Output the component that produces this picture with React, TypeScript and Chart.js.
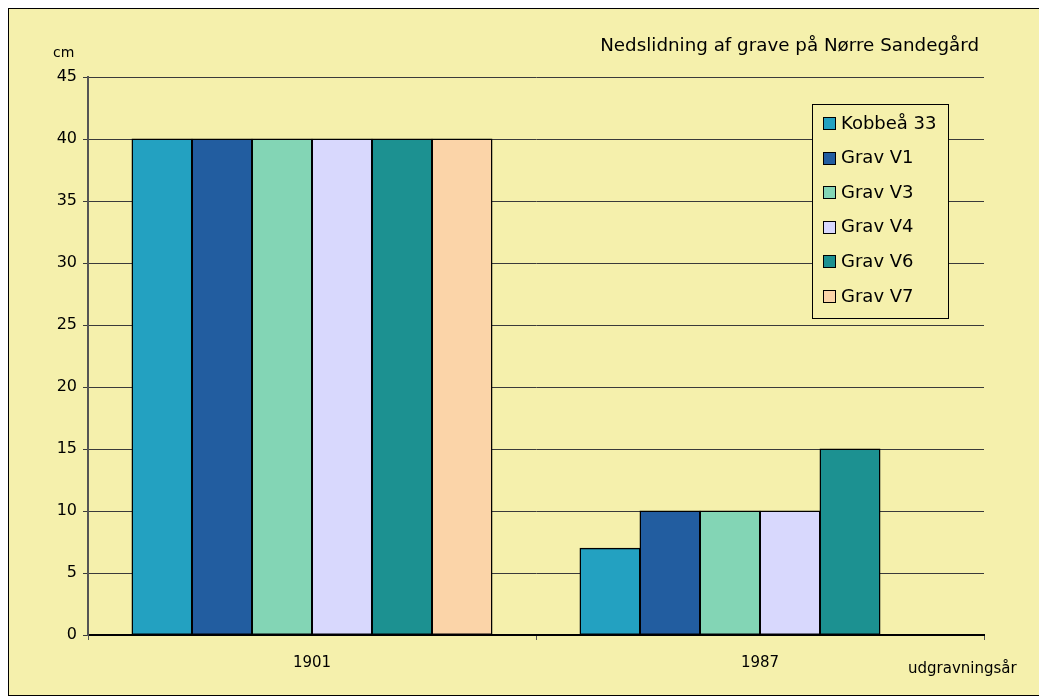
import React, { useEffect, useRef } from "react";
import { Chart, registerables } from "chart.js";

Chart.register(...registerables);

const categories = ["1901", "1987"];
const seriesNames = ["Kobbeå 33", "Grav V1", "Grav V3", "Grav V4", "Grav V6", "Grav V7"];
const kobbea33 = [40, 7];
const gravV1 = [40, 10];
const gravV3 = [40, 10];
const gravV4 = [40, 10];
const gravV6 = [40, 15];
const gravV7 = [40, null];
const seriesColors = ["#23A1C1", "#225DA0", "#83D5B5", "#D8D8FD", "#1C9191", "#FBD4A8"];
const yTicks = [0, 5, 10, 15, 20, 25, 30, 35, 40, 45];

const titleText = "Nedslidning af grave på Nørre Sandegård";
const yAxisTitle = "cm";
const xAxisTitle = "udgravningsår";

const BG = "#F5F0AC";
const FONT = "'DejaVu Sans', sans-serif";

const textPlugin = {
  id: "textPlugin",
  afterDraw(chart: any) {
    const ctx = chart.ctx;
    ctx.save();
    ctx.fillStyle = "#000";
    ctx.textBaseline = "alphabetic";
    ctx.font = `18.3px ${FONT}`;
    ctx.textAlign = "right";
    ctx.fillText(titleText, 970, 42);
    ctx.font = `14px ${FONT}`;
    ctx.textAlign = "left";
    ctx.fillText(yAxisTitle, 44, 48);
    ctx.font = `15px ${FONT}`;
    ctx.fillText(xAxisTitle, 899, 664);

    // legend
    const lx = 803, ly = 95, lw = 136, lh = 214;
    ctx.fillStyle = BG;
    ctx.fillRect(lx, ly, lw, lh);
    ctx.strokeStyle = "#000";
    ctx.lineWidth = 1;
    ctx.strokeRect(lx + 0.5, ly + 0.5, lw, lh);
    ctx.font = `18px ${FONT}`;
    ctx.textBaseline = "middle";
    chart.data.datasets.forEach((ds: any, i: number) => {
      const cy = 114 + i * 34.6;
      ctx.fillStyle = ds.backgroundColor;
      ctx.fillRect(814, Math.round(cy - 6), 12, 12);
      ctx.strokeStyle = "#000";
      ctx.lineWidth = 1;
      ctx.strokeRect(814.5, Math.round(cy - 6) + 0.5, 12, 12);
      ctx.fillStyle = "#000";
      ctx.fillText(ds.label, 832, cy + 1);
    });
    ctx.restore();
  },
};

export default function App() {
  const ref = useRef<HTMLCanvasElement>(null);
  useEffect(() => {
    if (!ref.current) return;
    const values = [kobbea33, gravV1, gravV3, gravV4, gravV6, gravV7];
    const chart = new Chart(ref.current, {
      type: "bar",
      data: {
        labels: categories,
        datasets: seriesNames.map((name, i) => ({
          label: name,
          data: values[i],
          backgroundColor: seriesColors[i],
          borderColor: "#000",
          borderWidth: 1.5,
          borderSkipped: false,
          inflateAmount: 0.5,
          categoryPercentage: 360 / 448,
          barPercentage: 1.0,
        })),
      },
      options: {
        responsive: false,
        animation: false,
        layout: { padding: { left: 0, right: 62, top: 68, bottom: 20 } },
        plugins: {
          legend: { display: false },
          title: { display: false },
          tooltip: { enabled: false },
        },
        scales: {
          x: {
            afterFit: (s: any) => {
              s.height = 40;
            },
            grid: {
              drawOnChartArea: false,
              drawTicks: true,
              tickLength: 5,
              color: "#555",
              offset: true,
            },
            border: { color: "#000", width: 2 },
            ticks: { color: "#000", font: { family: FONT, size: 15 }, padding: 14 },
          },
          y: {
            min: 0,
            max: 45,
            afterFit: (s: any) => {
              s.width = 79;
            },
            afterBuildTicks: (s: any) => {
              s.ticks = yTicks.map((v) => ({ value: v }));
            },
            grid: { color: "#3a3a3a", lineWidth: 1, tickLength: 5 },
            border: { color: "#555", width: 2 },
            ticks: { color: "#000", font: { family: FONT, size: 16 }, padding: 6 },
          },
        },
      },
      plugins: [textPlugin],
    });
    return () => chart.destroy();
  }, []);
  return (
    <div
      style={{
        width: 1039,
        height: 688,
        border: "1px solid #000",
        boxSizing: "border-box",
        background: BG,
      }}
    >
      <canvas ref={ref} width={1037} height={686} style={{ display: "block" }} />
    </div>
  );
}
